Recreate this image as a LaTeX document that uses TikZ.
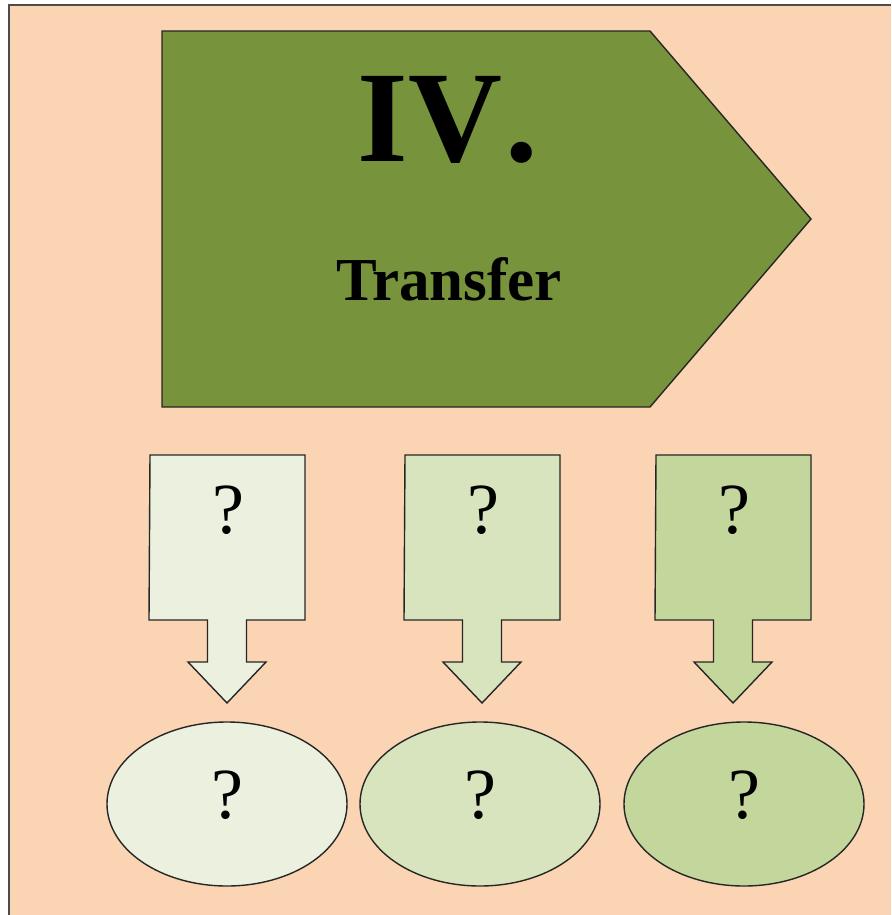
\documentclass[tikz,border=0pt]{standalone}
\usepackage{fontspec}
\setmainfont{Liberation Serif}
\usetikzlibrary{positioning}
\usetikzlibrary{shapes.geometric}
\definecolor{peach}{HTML}{FBD4B4}
\definecolor{olive}{HTML}{77933C}
\definecolor{pale1}{HTML}{EBF1DE}
\definecolor{pale2}{HTML}{D7E4BD}
\definecolor{pale3}{HTML}{C3D69B}

\begin{document}
\begin{tikzpicture}[x=1pt,y=-1pt,line join=miter,
    outline/.style = {draw=black!85, line width=1.4pt},
    oval/.style = {draw=black!85, line width=1.4pt, ellipse, minimum width=240pt, minimum height=164pt},
    qmark/.style = {font=\fontsize{72}{72}\selectfont}]
        \useasboundingbox (0,0) rectangle (891,915);
        % page frame
        \fill[peach] (9,5) rectangle (891,915);
        \draw[black!70, line width=1.5pt] (9,915) -- (9,5) -- (891,5);
        % big arrow on top
        \draw[outline, fill=olive] (162,31) -- (650,31) -- (811,219) -- (650,407) -- (162,407) -- cycle;
        \node[font=\fontsize{130}{130}\selectfont\bfseries] (0) at (448,120) {IV\kern4pt.};
        \node[font=\fontsize{61}{61}\selectfont\bfseries] (t) at (449,279) {Transfer};
        % three down-arrow callouts
        \foreach \x/\c/\i in {150/pale1/1, 405/pale2/2, 656/pale3/3} {
            \draw[outline, fill=\c] (\x,455) -- ++(155,0) -- ++(0,165) -- ++(-58.5,0) -- ++(0,42)
                -- ++(19.5,0) -- ++(-39,41) -- ++(-39,-41) -- ++(19.5,0) -- ++(0,-42) -- ++(-58.5,0) -- cycle;
            \node[qmark] (q\i) at (\x+78,510) {?};
        }
        % ovals below
        \node[oval, fill=pale1] (1) at (227,804) {};
        \node[oval, fill=pale2] (2) at (480,804) {};
        \node[oval, fill=pale3] (3) at (744,804) {};
        \node[qmark] (a1) at (1) [yshift=9pt] {?};
        \node[qmark] (a2) at (2) [yshift=9pt] {?};
        \node[qmark] (a3) at (3) [yshift=9pt] {?};
      \end{tikzpicture}
\end{document}
